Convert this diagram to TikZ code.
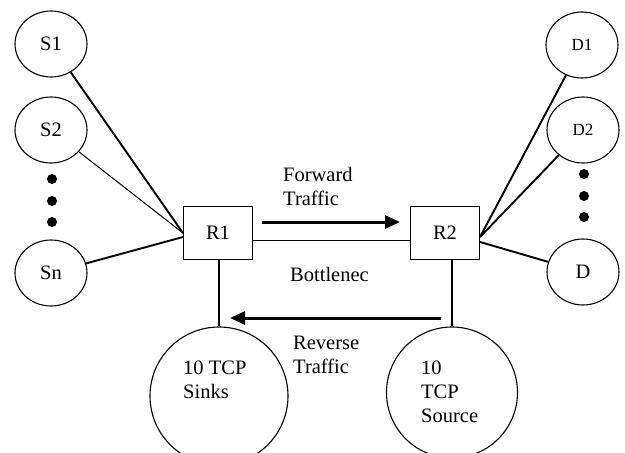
\documentclass[tikz,border=0pt]{standalone}
\usepackage{fontspec}
\setmainfont{Liberation Serif}
\usetikzlibrary{arrows.meta,shapes.geometric,calc}
\begin{document}
\begin{tikzpicture}[x=1pt,y=-1pt,
  every node/.style={font=\fontsize{20.5}{24}\selectfont},
  host/.style={draw,line width=1.1pt,ellipse,minimum width=72pt,minimum height=66pt,inner sep=0pt},
  router/.style={draw,line width=1.1pt,rectangle,minimum width=69pt,minimum height=53pt,inner sep=0pt},
  pool/.style={draw,line width=1.1pt,circle,inner sep=0pt},
  dot/.style={circle,fill=black,inner sep=0pt,minimum size=10pt},
  txt/.style={anchor=base west,inner sep=0pt,align=left},
  flow/.style={line width=3pt,-{Triangle[length=15pt,width=13pt]}},
  link/.style={line width=1.9pt},
  thinlink/.style={line width=1pt}]
\clip (0,0) rectangle (625,453);
\useasboundingbox (0,0) rectangle (625,453);
% sources
\node[host] (S1) at (51,44) {S1};
\node[host] (S2) at (51,130) {S2};
\node[dot] (sd1) at (52,179) {};
\node[dot] (sd2) at (52,201) {};
\node[dot] (sd3) at (52,222) {};
\node[host] (Sn) at (51,273) {Sn};
% destinations
\node[host] (D1) at (582,45) {\fontsize{17}{20}\selectfont D1};
\node[host] (D2) at (583,130) {\fontsize{17}{20}\selectfont D2};
\node[dot] (dd1) at (584,174) {};
\node[dot] (dd2) at (584,196) {};
\node[dot] (dd3) at (584,217) {};
\node[host] (D) at (583,272) {D};
% routers
\node[router] (R1) at (218,233) {R1};
\node[router] (R2) at (445,233) {R2};
% pools
\node[pool,minimum size=138pt] (Sinks) at (219,396) {};
\node[pool,minimum size=131pt] (Src) at (452,392.5) {};
\node[txt] (sinkstxt) at (183,398) {10 TCP\\Sinks};
\node[txt] (srctxt) at (421,422) {10\\TCP\\Source};
% labels
\node[txt] (fwd) at (283,205) {Forward\\Traffic};
\node[txt] (bott) at (290,281) {Bottlenec};
\node[txt] (rev) at (293,373) {Reverse\\Traffic};
% connectors
\coordinate (r1in) at ([yshift=-4pt]R1.west);
\coordinate (r2out) at ([yshift=-4pt]R2.east);
\coordinate (r2outb) at ([yshift=-9pt]R2.east);
\draw[link] (S1) -- (R1.west);
\draw[thinlink] (S2) -- (R1.west);
\draw[link] (Sn) -- (r1in);
\draw[link] (D1) -- (r2out);
\draw[link] (D2) -- (r2out);
\draw[link] (D) -- (r2outb);
\draw[thinlink] ([yshift=-7pt]R1.east) -- ([yshift=-7pt]R2.west);
\draw[link] (R1.south -| Sinks.north) -- (Sinks.north);
\draw[link] (R2.south -| Src.north) -- (Src.north);
\coordinate (fs) at (262,222);
\coordinate (fe) at (400,222);
\coordinate (rs) at (441,318);
\coordinate (re) at (230,318);
\draw[flow] (fs) -- (fe);
\draw[flow] (rs) -- (re);
\end{tikzpicture}
\end{document}
